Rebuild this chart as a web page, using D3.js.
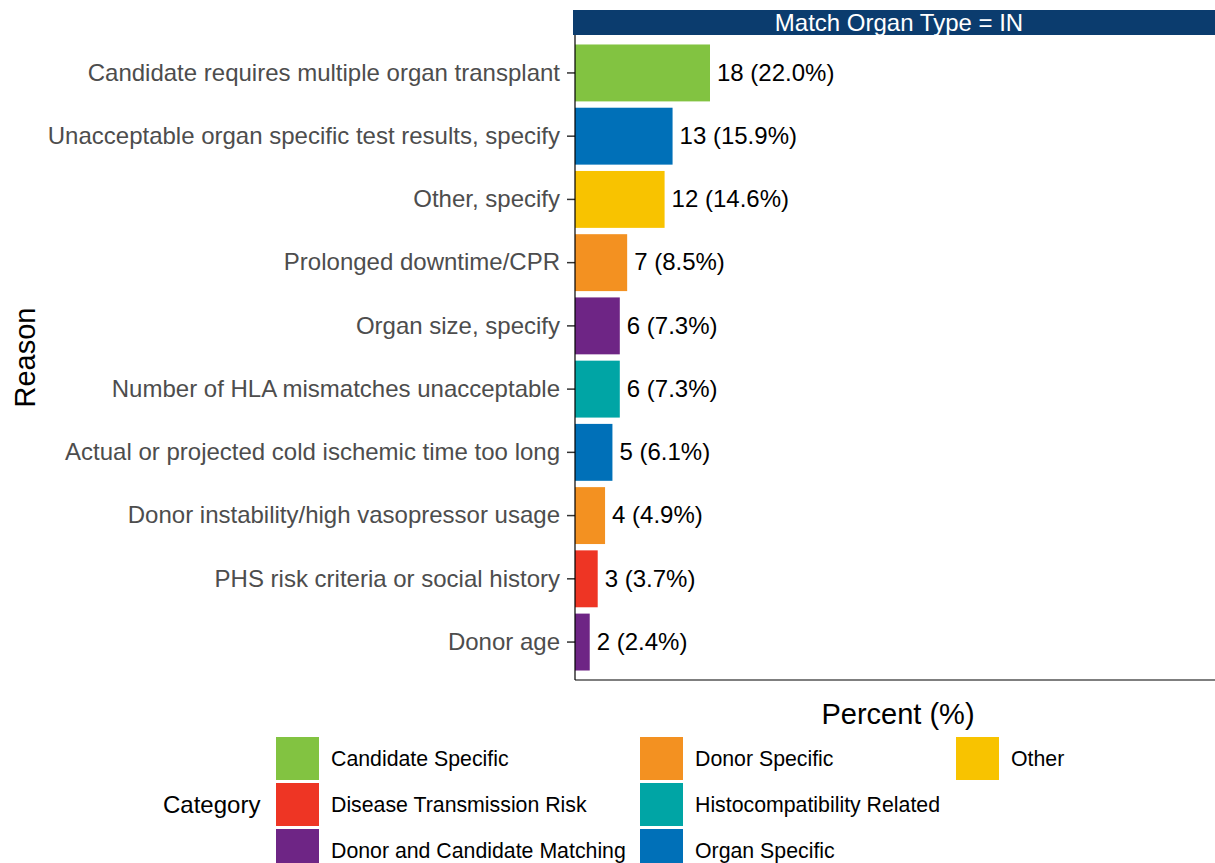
<!DOCTYPE html>
<html>
<head>
<meta charset="utf-8">
<script src="https://cdn.jsdelivr.net/npm/d3@7"></script>
<style>
  body { margin: 0; background: #fff; }
  svg { font-family: "Liberation Sans", Arial, sans-serif; display: block; }
</style>
</head>
<body>
<div id="chart"></div>
<script>
// Data
const reasons = [
  "Candidate requires multiple organ transplant",
  "Unacceptable organ specific test results, specify",
  "Other, specify",
  "Prolonged downtime/CPR",
  "Organ size, specify",
  "Number of HLA mismatches unacceptable",
  "Actual or projected cold ischemic time too long",
  "Donor instability/high vasopressor usage",
  "PHS risk criteria or social history",
  "Donor age"
];
const counts = [18, 13, 12, 7, 6, 6, 5, 4, 3, 2];
const percents = [22.0, 15.9, 14.6, 8.5, 7.3, 7.3, 6.1, 4.9, 3.7, 2.4];
const reasonCategories = [
  "Candidate Specific", "Organ Specific", "Other", "Donor Specific",
  "Donor and Candidate Matching", "Histocompatibility Related", "Organ Specific",
  "Donor Specific", "Disease Transmission Risk", "Donor and Candidate Matching"
];
const categories = [
  "Candidate Specific", "Disease Transmission Risk", "Donor and Candidate Matching",
  "Donor Specific", "Histocompatibility Related", "Organ Specific", "Other"
];
const categoryColors = ["#82c341", "#ee3524", "#6e2585", "#f39121", "#00a5a5", "#0070b8", "#f8c300"];

const rows = reasons.map((r, i) => ({
  reason: r, count: counts[i], pct: percents[i], cat: reasonCategories[i]
}));

const W = 1215, H = 863;
const panel = {left: 575, right: 1215, top: 35, bottom: 680};

const svg = d3.select("#chart").append("svg")
  .attr("width", W).attr("height", H);

const x = d3.scaleLinear()
  .domain([0, 22.0])
  .range([panel.left, panel.left + 135]);

// ggplot-style discrete expansion (0.6 units each side)
const step = (panel.bottom - panel.top) / (reasons.length + 0.2);
const y = d3.scaleBand()
  .domain(reasons)
  .range([panel.top + 0.6 * step - step / 2, panel.bottom - 0.6 * step + step / 2])
  .paddingInner(0.1).paddingOuter(0.05);

const color = d3.scaleOrdinal().domain(categories).range(categoryColors);

// Strip
svg.append("rect")
  .attr("x", panel.left - 2).attr("y", 10)
  .attr("width", W - panel.left + 2).attr("height", panel.top - 10)
  .attr("fill", "#0b3c6e");
svg.append("text")
  .attr("x", (panel.left + W) / 2 + 4).attr("y", 31)
  .attr("text-anchor", "middle")
  .attr("fill", "#fff").attr("font-size", 24)
  .text("Match Organ Type = IN");

// Bars
svg.selectAll(".bar").data(rows).enter().append("rect")
  .attr("class", "bar")
  .attr("x", x(0))
  .attr("y", d => y(d.reason))
  .attr("width", d => x(d.pct) - x(0))
  .attr("height", y.bandwidth())
  .attr("fill", d => color(d.cat));

// Value labels
svg.selectAll(".lab").data(rows).enter().append("text")
  .attr("class", "lab")
  .attr("x", d => x(d.pct) + 7)
  .attr("y", d => y(d.reason) + y.bandwidth() / 2)
  .attr("dy", "0.32em")
  .attr("font-size", 24).attr("fill", "#000")
  .text(d => d.count + " (" + d.pct.toFixed(1) + "%)");

// Y axis
const yAxis = svg.append("g")
  .attr("transform", "translate(" + panel.left + ",0)")
  .call(d3.axisLeft(y).tickSize(8).tickPadding(7));
yAxis.select(".domain").remove();
yAxis.selectAll(".tick line").attr("stroke", "#333").attr("stroke-width", 1.5);
yAxis.selectAll(".tick text").attr("font-size", 24).attr("fill", "#4d4d4d")
  .attr("dy", "0.32em")
  .attr("font-family", "Liberation Sans, Arial, sans-serif");

// Axis lines
svg.append("line")
  .attr("x1", panel.left).attr("x2", panel.left)
  .attr("y1", panel.top).attr("y2", panel.bottom)
  .attr("stroke", "#000").attr("stroke-width", 1.2);
svg.append("line")
  .attr("x1", panel.left).attr("x2", W)
  .attr("y1", panel.bottom).attr("y2", panel.bottom)
  .attr("stroke", "#000").attr("stroke-width", 1.2);

// Axis titles
svg.append("text")
  .attr("transform", "translate(35," + ((panel.top + panel.bottom) / 2) + ") rotate(-90)")
  .attr("text-anchor", "middle").attr("font-size", 29)
  .text("Reason");
svg.append("text")
  .attr("x", 898).attr("y", 724)
  .attr("text-anchor", "middle").attr("font-size", 29)
  .text("Percent (%)");

// Legend
const legend = svg.append("g");
legend.append("text")
  .attr("x", 163).attr("y", 813)
  .attr("font-size", 24).text("Category");
const colX = [276, 640, 956];
const keySize = 43, rowStep = 46, legTop = 737;
categories.forEach((c, i) => {
  const col = Math.floor(i / 3), row = i % 3;
  const gx = colX[col], gy = legTop + row * rowStep;
  legend.append("rect")
    .attr("x", gx).attr("y", gy)
    .attr("width", keySize).attr("height", keySize)
    .attr("fill", color(c));
  legend.append("text")
    .attr("x", gx + 55).attr("y", gy + keySize / 2)
    .attr("dy", "0.34em").attr("font-size", 21.3)
    .text(c);
});
</script>
</body>
</html>
